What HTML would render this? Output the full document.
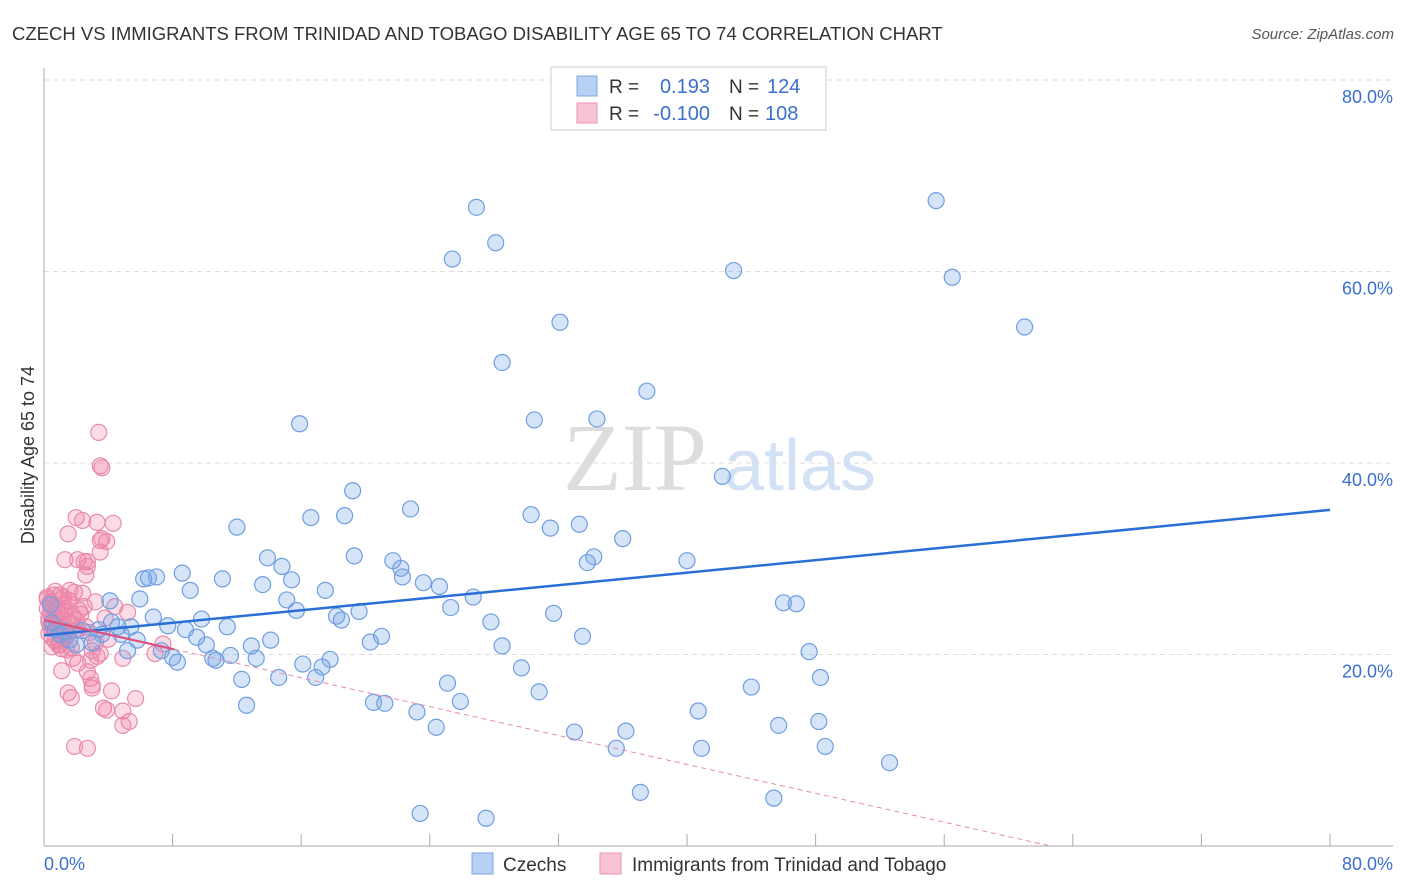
<!DOCTYPE html>
<html><head><meta charset="utf-8"><style>
body{margin:0;background:#fff;font-family:"Liberation Sans",sans-serif;}
#wrap{position:relative;width:1406px;height:892px;overflow:hidden;}
</style></head><body>
<div id="wrap">
<svg id="svg" width="1406" height="892" xmlns="http://www.w3.org/2000/svg">
<text x="12" y="40" font-size="18.5" fill="#333">CZECH VS IMMIGRANTS FROM TRINIDAD AND TOBAGO DISABILITY AGE 65 TO 74 CORRELATION CHART</text>
<text x="1394" y="39" font-size="15" fill="#555" font-style="italic" text-anchor="end">Source: ZipAtlas.com</text>
<text x="635" y="490" font-size="96" fill="#ddd" font-family="Liberation Serif,serif" text-anchor="middle">ZIP</text>
<text x="800" y="490" font-size="72" fill="#d3e1f4" text-anchor="middle">atlas</text>
<g id="grid"></g>
<g id="axes"></g>
<g id="pts"></g>
<g id="lines"></g>
<text transform="translate(34,455) rotate(-90)" font-size="18" fill="#333" text-anchor="middle">Disability Age 65 to 74</text>
<text x="44" y="870" font-size="18" fill="#3a6fd0">0.0%</text>
<text x="1393" y="870" font-size="18" fill="#3a6fd0" text-anchor="end">80.0%</text>
<g>
<rect x="551" y="67" width="275" height="63" fill="#fff" stroke="#ddd" stroke-width="1.5"/>
<rect x="577" y="76" width="20" height="20" fill="#b8d0f4" stroke="#7ea6e6"/>
<rect x="577" y="103" width="20" height="20" fill="#f8c3d3" stroke="#eb93b2"/>
<text x="609" y="93" font-size="19" fill="#333">R =</text>
<text x="710" y="93" font-size="20" fill="#3a6fd0" text-anchor="end">0.193</text>
<text x="729" y="93" font-size="19" fill="#333">N =</text>
<text x="767" y="93" font-size="20" fill="#3a6fd0">124</text>
<text x="609" y="120" font-size="19" fill="#333">R =</text>
<text x="710" y="120" font-size="20" fill="#3a6fd0" text-anchor="end">-0.100</text>
<text x="729" y="120" font-size="19" fill="#333">N =</text>
<text x="765" y="120" font-size="20" fill="#3a6fd0">108</text>
</g>
<g>
<rect x="472" y="853" width="21" height="21" fill="#b8d0f4" stroke="#7ea6e6"/>
<text x="503" y="871" font-size="19" fill="#333">Czechs</text>
<rect x="600" y="853" width="21" height="21" fill="#f8c3d3" stroke="#eb93b2"/>
<text x="632" y="871" font-size="19" fill="#333">Immigrants from Trinidad and Tobago</text>
</g>
</svg>
</div>
<script>
const yTicks=[20,40,60,80];
const yTickLabels=["20.0%","40.0%","60.0%","80.0%"];
const xTicks=[0,8,16,24,32,40,48,56,64,72,80];
const czechX=[26.9,25.4,28.1,55.5,42.9,56.5,61.0,32.1,28.5,37.5,15.9,30.5,34.4,42.2,19.2,12.0,16.6,18.7,22.8,30.3,31.5,33.3,36.0,19.3,13.9,21.7,22.2,22.3,14.8,34.2,33.8,40.0,15.4,13.6,11.1,8.6,7.0,6.2,6.5,9.1,23.6,24.6,17.5,15.1,15.7,26.7,25.3,19.6,18.2,18.5,27.8,31.7,46.0,46.8,4.1,6.8,9.8,11.4,5.4,4.2,3.4,3.6,2.4,1.0,1.6,4.8,5.8,7.7,8.8,9.5,10.1,21.0,20.3,14.1,33.5,28.5,5.2,7.3,8.0,8.3,10.7,10.5,11.6,12.9,13.2,16.1,17.8,17.3,16.9,29.7,12.3,14.6,25.1,30.8,44.0,47.6,48.3,12.6,20.5,21.2,25.9,23.2,24.4,33.0,36.2,35.6,40.7,40.9,45.7,48.2,48.6,52.6,37.1,45.4,23.4,27.5,0.4,0.7,5.96,4.6,2.0,3.0,1.3,0.5];
const czechY=[66.7,61.3,63.0,67.4,60.1,59.4,54.2,54.7,50.5,47.5,44.1,44.5,44.6,38.6,37.1,33.3,34.3,34.5,35.2,34.6,33.2,33.6,32.1,30.3,30.1,29.8,29.0,28.1,29.2,30.2,29.6,29.8,27.8,27.3,27.9,28.5,28.1,27.9,28.0,26.7,27.5,27.1,26.7,25.7,24.6,26.0,24.9,24.5,24.0,23.6,23.4,24.3,25.4,25.3,25.6,23.9,23.7,22.9,22.9,23.4,22.6,22.1,22.5,22.1,21.5,22.1,21.5,23.0,22.6,21.8,21.0,21.9,21.3,21.5,21.9,20.9,20.4,20.4,19.7,19.2,19.4,19.6,19.9,20.9,19.6,19.0,19.5,18.7,17.6,18.6,17.4,17.6,17.0,16.1,16.6,20.3,17.6,14.7,15.0,14.9,15.1,14.0,12.4,11.9,12.0,10.2,14.1,10.2,12.6,13.0,10.4,8.7,5.6,5.0,3.4,2.9,25.2,22.6,25.8,22.9,21.0,21.2,22.4,23.3];
const trinX=[3.4,3.5,3.6,2.0,2.4,3.3,4.3,1.5,3.5,3.6,1.3,2.1,2.5,2.7,3.5,3.9,2.6,2.7,0.7,1.0,1.6,1.9,1.5,3.2,4.4,5.2,1.7,2.1,2.6,1.0,1.4,1.7,1.8,2.1,2.9,3.3,3.5,1.1,2.7,2.9,3.0,3.0,1.5,1.7,4.2,3.7,3.9,4.9,5.3,4.9,5.7,1.9,2.7,6.9,7.4,4.9,0.2,0.4,0.6,0.8,1.0,1.2,0.3,0.5,0.7,0.9,1.1,1.3,0.2,0.4,0.6,0.8,1.2,1.4,0.3,0.5,0.7,0.9,1.1,0.2,0.4,0.6,0.8,1.0,1.5,1.8,2.2,2.5,0.3,0.6,0.9,1.2,1.6,2.0,2.3,0.5,1.0,1.4,1.9,2.8,3.2,0.4,0.8,1.3,2.4,3.0,4.0,3.8];
const trinY=[43.2,39.7,39.5,34.3,34.0,33.8,33.7,32.6,31.9,32.1,29.9,29.9,29.7,29.7,30.7,31.8,28.3,29.2,26.6,26.2,26.7,26.5,25.7,25.5,25.0,24.4,23.2,22.6,22.9,21.0,20.5,20.7,19.6,19.1,19.4,19.8,20.1,18.3,18.2,17.5,16.8,16.5,16.0,15.5,16.2,14.4,14.2,14.1,13.0,12.6,15.4,10.4,10.2,20.1,21.1,19.6,26.0,25.5,25.0,24.6,24.2,23.8,23.4,23.0,22.6,22.4,22.0,21.6,24.8,24.4,24.0,23.6,25.2,24.8,22.2,21.8,21.4,21.0,20.6,25.8,25.4,26.2,23.0,22.8,23.4,24.0,24.6,25.0,23.8,23.2,22.6,26.0,25.6,23.6,24.2,20.8,21.4,22.0,22.5,22.3,21.2,22.9,23.4,24.5,26.4,20.4,21.6,23.8];
const czechTrend=[22.0,35.1];
const trinTrend=[23.6,-0.377];
const NS="http://www.w3.org/2000/svg";
const X=v=>44+v/80*1286, Y=v=>846-v/20*191.5;
function mk(t,a,p){const e=document.createElementNS(NS,t);for(const k in a)e.setAttribute(k,a[k]);document.getElementById(p).appendChild(e);return e;}
yTicks.forEach((t,i)=>{
 const g=mk('line',{x1:44,x2:1393,y1:Y(t),y2:Y(t),stroke:'#ddd','stroke-dasharray':'5,4'},'grid');
 
 
 const l=mk('text',{x:1393,y:Y(t)+23,'font-size':18,fill:'#3a6fd0','text-anchor':'end'},'grid');
 l.textContent=yTickLabels[i];
 
 
});
const ax=mk('line',{x1:44,x2:44,y1:68,y2:846,stroke:'#aaa'},'axes');


const bx=mk('line',{x1:44,x2:1393,y1:846,y2:846,stroke:'#aaa'},'axes');


xTicks.forEach(t=>{
 const k=mk('line',{x1:X(t),x2:X(t),y1:834,y2:846,stroke:'#aaa'},'axes');
 
 
});
trinX.forEach((v,i)=>{
 const c=mk('circle',{cx:X(v),cy:Y(trinY[i]),r:8,fill:'rgba(242,130,165,0.28)',stroke:'#e98aab','stroke-width':1.2},'pts');
 
 
});
czechX.forEach((v,i)=>{
 const c=mk('circle',{cx:X(v),cy:Y(czechY[i]),r:8,fill:'rgba(120,165,230,0.3)',stroke:'#6f9ee2','stroke-width':1.2},'pts');
 
 
});
const b=mk('line',{x1:X(0),y1:Y(czechTrend[0]),x2:X(80),y2:Y(czechTrend[1]),stroke:'#2a6fd6','stroke-width':2.5},'lines');


const tEnd=-trinTrend[0]/trinTrend[1];
const pd=mk('line',{x1:X(8.1),y1:Y(trinTrend[0]+trinTrend[1]*8.1),x2:X(tEnd),y2:Y(0),stroke:'#e98aab','stroke-width':1,'stroke-dasharray':'5,4'},'lines');


const ps=mk('line',{x1:X(0),y1:Y(trinTrend[0]),x2:X(8.1),y2:Y(trinTrend[0]+trinTrend[1]*8.1),stroke:'#e0507f','stroke-width':2.2},'lines');


</script>
</body></html>
